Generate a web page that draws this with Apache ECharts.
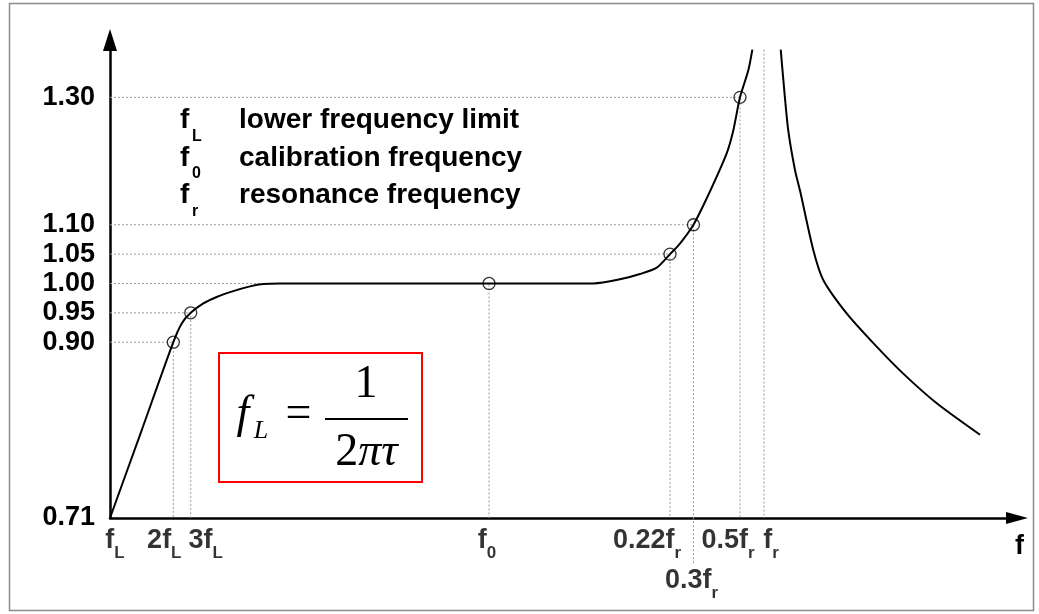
<!DOCTYPE html>
<html><head><meta charset="utf-8">
<script src="https://cdn.jsdelivr.net/npm/echarts@6/dist/echarts.min.js"></script>
<style>html,body{margin:0;padding:0;background:#fff}#c{width:1039px;height:614px}</style>
</head><body><div id="c"></div>
<script>
// ---------------- DATA ----------------
// schematic frequency axis (0..100 units, not a real frequency scale)
const xTickMain = ['f', '2f', '3f', 'f', '0.22f', '0.3f', '0.5f', 'f'];
const xTickSub  = ['L', 'L', 'L', '0', 'r', 'r', 'r', 'r'];
const xTickPos  = [0, 6.98, 8.9, 41.79, 61.74, 64.33, 69.46, 72.11];

const yTicks      = [0.71, 0.90, 0.95, 1.00, 1.05, 1.10, 1.30];
const yTickLabels = ['0.71', '0.90', '0.95', '1.00', '1.05', '1.10', '1.30'];

// response below resonance
const curveBelowX = [0, 3.5, 6.98, 7.91, 8.9, 10.29, 11.76, 13.59, 15.44, 16.9, 18.74, 30, 41.79, 53.29, 56.23, 58.43, 60.28, 61.74, 62.84, 64.33, 66.04, 67.99, 68.72, 69.46, 70.37, 70.82];
const curveBelowY = [0.71, 0.805, 0.90, 0.932, 0.95, 0.966, 0.977, 0.987, 0.995, 0.999, 1.00, 1.00, 1.00, 1.00, 1.007, 1.016, 1.027, 1.05, 1.068, 1.10, 1.149, 1.212, 1.248, 1.30, 1.342, 1.375];
// response above resonance
const curveAboveX = [73.95, 74.24, 74.78, 75.52, 76.07, 77.54, 78.64, 81.22, 84.16, 87.46, 91.15, 95.92];
const curveAboveY = [1.375, 1.327, 1.248, 1.186, 1.154, 1.057, 1.006, 0.949, 0.899, 0.866, 0.834, 0.800];

// marked points
const markerX = [6.98, 8.9, 41.79, 61.74, 64.33, 69.46];
const markerY = [0.90, 0.95, 1.00, 1.05, 1.10, 1.30];
const resonanceX = 72.11;

const axisName = 'f';
const legendSym  = ['f', 'f', 'f'];
const legendSub  = ['L', '0', 'r'];
const legendText = ['lower frequency limit', 'calibration frequency', 'resonance frequency'];

// ---------------- SCALE / LAYOUT ----------------
const FONT = '"Liberation Sans", Arial, Helvetica, sans-serif';
const SERIF = '"Liberation Serif", "Times New Roman", serif';
const Y_TOP = 1.39;          // value at the top of the drawn axis
const LEADER_END = 0.66;     // dotted leader of 0.3fr runs below the axis to its label
// the schematic y scale is piecewise linear: stretched below 0.90 and slightly above 1.10
function yWarp(v) {
  if (v < 0.90) return 0.90 - (0.90 - v) * 1.576;
  if (v <= 1.10) return v;
  return 1.10 + (v - 1.10) * 1.085;
}
function nearest(arr, v) {
  let bi = 0, bd = Infinity;
  arr.forEach((a, i) => { const d = Math.abs(a - v); if (d < bd) { bd = d; bi = i; } });
  return bi;
}
const yBase = yTicks[0];

// horizontal nudge (px) and row of each frequency label, as in the original drawing
const xLabelShift = [5, -9, 15, -2, -23, -2, -12, 7];
const xLabelRow   = [0, 0, 0, 0, 0, 1, 0, 0];

const labelRich = {
  m: { fontFamily: FONT, fontWeight: 'bold', fontSize: 27, color: '#000', lineHeight: 28 },
  s: { fontFamily: FONT, fontWeight: 'bold', fontSize: 17, color: '#000', lineHeight: 16, padding: [24, 0, 0, 0] }
};

// guide (dotted) polylines built from the markers
const guides = markerX.map((x, i) => {
  const y = yWarp(markerY[i]);
  const coords = [[0, y], [x, y], [x, yWarp(yBase)]];
  if (i === 4) coords.push([x, yWarp(LEADER_END)]);
  return { coords };
});
guides.push({ coords: [[resonanceX, yWarp(curveBelowY[curveBelowY.length - 1])], [resonanceX, yWarp(yBase)]] });

const chart = echarts.init(document.getElementById('c'), null, { renderer: 'canvas' });
chart.setOption({
  animation: false,
  backgroundColor: '#fff',
  grid: { left: 110, right: 22, top: 40, bottom: 96, containLabel: false },
  xAxis: {
    type: 'value', min: 0, max: 100,
    axisLine: { show: true, symbol: ['none', 'triangle'], symbolSize: [12, 22], lineStyle: { color: '#000', width: 2.5 } },
    axisTick: { show: false },
    splitLine: { show: false },
    axisLabel: { show: false }
  },
  yAxis: {
    type: 'value', min: yWarp(yBase), max: yWarp(Y_TOP),
    axisLine: { show: true, onZero: false, symbol: ['none', 'triangle'], symbolSize: [14, 22], lineStyle: { color: '#000', width: 2.5 } },
    axisTick: { show: false },
    splitLine: { show: false },
    axisLabel: {
      customValues: yTicks.map(yWarp), margin: 15, hideOverlap: false,
      fontFamily: FONT, fontWeight: 'bold', fontSize: 27, color: '#000',
      formatter: (v) => yTickLabels[nearest(yTicks.map(yWarp), v)]
    }
  },
  series: [
    {
      type: 'lines', coordinateSystem: 'cartesian2d', polyline: true, silent: true, clip: false, z: 1,
      lineStyle: { color: '#9a9a9a', width: 1, type: [2, 2], opacity: 1 },
      data: guides
    },
    {
      type: 'line', name: 'below', smooth: 0.25, showSymbol: false, symbol: 'none', z: 3,
      lineStyle: { color: '#000', width: 2 },
      data: curveBelowX.map((x, i) => [x, yWarp(curveBelowY[i])])
    },
    {
      type: 'line', name: 'above', smooth: 0.25, showSymbol: false, symbol: 'none', z: 3,
      lineStyle: { color: '#000', width: 2 },
      data: curveAboveX.map((x, i) => [x, yWarp(curveAboveY[i])])
    },
    {
      type: 'scatter', symbol: 'circle', symbolSize: 12, z: 4,
      itemStyle: { color: 'rgba(0,0,0,0)', borderColor: '#000', borderWidth: 1.3 },
      data: markerX.map((x, i) => [x, yWarp(markerY[i])])
    },
    {
      // frequency tick labels, anchored on the x axis at each tick position
      type: 'scatter', name: 'ticks', symbolSize: 0, silent: true, z: 5, clip: false,
      label: {
        show: true, position: 'bottom', distance: 9, rich: labelRich,
        formatter: (p) => '{m|' + xTickMain[p.dataIndex] + '}{s|' + xTickSub[p.dataIndex] + '}'
      },
      labelLayout: (p) => ({ dx: xLabelShift[p.dataIndex], dy: xLabelRow[p.dataIndex] * 40, hideOverlap: false }),
      data: xTickPos.map((x) => [x, yWarp(yBase)])
    }
  ],
  graphic: [
    { type: 'rect', z: -1, shape: { x: 9.5, y: 3.5, width: 1024, height: 607 }, style: { fill: 'none', stroke: '#8c8c8c', lineWidth: 1.5 } },
    // axis name
    { type: 'text', x: 1015, y: 547, style: { text: axisName, font: 'bold 27px ' + FONT, fill: '#000', textAlign: 'left', textVerticalAlign: 'middle' } },
    // legend of symbols
    ...legendText.flatMap((t, i) => {
      const mid = 120.3 + i * 37.5;
      return [
        { type: 'text', x: 180, y: mid, style: { text: legendSym[i], font: 'bold 28px ' + FONT, fill: '#000', textAlign: 'left', textVerticalAlign: 'middle' } },
        { type: 'text', x: 192, y: mid + 16, style: { text: legendSub[i], font: 'bold 16px ' + FONT, fill: '#000', textAlign: 'left', textVerticalAlign: 'middle' } },
        { type: 'text', x: 239, y: mid, style: { text: t, font: 'bold 28px ' + FONT, fill: '#000', textAlign: 'left', textVerticalAlign: 'middle' } }
      ];
    }),
    // formula box
    { type: 'rect', shape: { x: 219, y: 353, width: 203, height: 129 }, style: { fill: '#fff', stroke: '#ff0000', lineWidth: 2 } },
    { type: 'text', x: 243, y: 415, style: { text: 'f', font: 'italic 46px ' + SERIF, fill: '#000', textAlign: 'center', textVerticalAlign: 'middle' } },
    { type: 'text', x: 261, y: 431, style: { text: 'L', font: 'italic 26px ' + SERIF, fill: '#000', textAlign: 'center', textVerticalAlign: 'middle' } },
    { type: 'text', x: 298.5, y: 414.5, style: { text: '=', font: '46px ' + SERIF, fill: '#000', textAlign: 'center', textVerticalAlign: 'middle' } },
    { type: 'text', x: 366, y: 384.5, style: { text: '1', font: '46px ' + SERIF, fill: '#000', textAlign: 'center', textVerticalAlign: 'middle' } },
    { type: 'line', shape: { x1: 325, y1: 419, x2: 408, y2: 419 }, style: { stroke: '#000', lineWidth: 2 } },
    { type: 'text', x: 366.5, y: 452.5, style: { text: '{a|2}{b|πτ}', textAlign: 'center', textVerticalAlign: 'middle',
        rich: { a: { font: '46px ' + SERIF, fill: '#000', color: '#000' }, b: { font: 'italic 46px ' + SERIF, fill: '#000', color: '#000' } } } }
  ]
});
</script>
</body></html>
